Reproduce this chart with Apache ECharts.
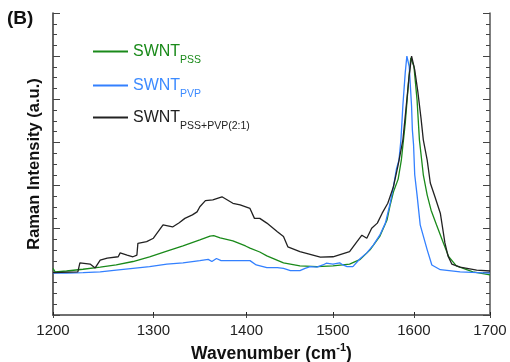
<!DOCTYPE html>
<html><head><meta charset="utf-8">
<script src="https://cdn.jsdelivr.net/npm/echarts@6/dist/echarts.min.js"></script>
<style>html,body{margin:0;padding:0;background:#fff}#c{width:510px;height:362px}</style>
</head><body><div id="c"></div>
<script>
// Wavenumber tick labels (x axis is logarithmic in the reference)
const xTicks = [1200, 1300, 1400, 1500, 1600, 1700];
const yMin = 0, yMax = 7;

// SWNT_PSS (green)
const pssWn = [1200,1202,1213,1229,1246,1262,1279,1296,1314,1331,1349,1360,1364,1371,1385,1399,1404,1415,1423,1442,1461,1481,1500,1520,1533,1545,1557,1566,1570,1574,1580,1584,1589,1593,1596,1597,1600,1604,1607,1612,1617,1622,1629,1638,1645,1655,1677,1700];
const pssI  = [1.08,1.00,1.02,1.06,1.11,1.16,1.24,1.35,1.48,1.60,1.74,1.83,1.84,1.79,1.72,1.60,1.55,1.46,1.37,1.21,1.14,1.12,1.14,1.18,1.29,1.51,1.82,2.20,2.55,2.85,3.15,3.59,4.45,5.37,5.96,6.00,5.76,4.98,4.06,3.25,2.78,2.43,2.09,1.67,1.35,1.14,1.00,0.93];

// SWNT_PVP (blue)
const pvpWn = [1200,1213,1229,1246,1262,1279,1296,1314,1331,1349,1358,1362,1367,1372,1385,1404,1411,1423,1435,1442,1450,1461,1467,1473,1481,1488,1492,1500,1508,1512,1517,1524,1533,1541,1549,1557,1564,1570,1574,1578,1581,1583.5,1586,1589,1591,1594,1597,1598,1599.5,1601,1604,1608,1617,1623,1634,1660,1700];
const pvpI  = [0.97,0.97,0.98,1.00,1.04,1.08,1.12,1.18,1.21,1.26,1.29,1.24,1.31,1.26,1.26,1.26,1.16,1.10,1.10,1.08,1.03,1.03,1.08,1.12,1.11,1.16,1.20,1.18,1.21,1.16,1.12,1.12,1.31,1.44,1.62,1.85,2.13,2.59,2.97,3.40,3.59,4.06,4.87,5.63,6.00,5.76,4.83,4.29,3.95,3.25,2.78,2.09,1.51,1.16,1.05,1.00,0.97];

// SWNT_PSS+PVP(2:1) (black)
const mixWn = [1200,1224,1226,1236,1241,1246,1253,1264,1266,1273,1279,1283,1284,1293,1300,1310,1320,1327,1333,1341,1346,1349,1355,1363,1373,1385,1393,1404,1409,1415,1423,1435,1442,1447,1461,1485,1500,1520,1529,1535,1541,1547,1554,1560,1567,1574,1580,1586,1590,1594,1597,1601,1605,1609,1612,1617,1621,1627,1634,1640,1644,1649,1660,1682,1700];
const mixI  = [0.98,1.00,1.21,1.18,1.09,1.27,1.32,1.35,1.44,1.39,1.35,1.39,1.66,1.70,1.78,2.09,2.04,2.14,2.24,2.32,2.39,2.51,2.65,2.67,2.74,2.59,2.55,2.47,2.24,2.24,2.13,1.93,1.82,1.58,1.47,1.34,1.35,1.47,1.70,1.85,1.78,2.01,2.13,2.36,2.59,2.97,3.48,4.06,4.80,5.56,6.00,5.68,5.17,4.57,4.06,3.59,3.06,2.74,2.36,1.67,1.37,1.18,1.11,1.04,1.02];

const F = "'Liberation Sans',Arial,sans-serif";
const lg = Math.log;
const pairs = (w, v) => w.map((x, i) => [lg(x), v[i]]);

const cGreen = '#1a8a1a', cBlue = '#3380ff', cBlack = '#222222';

function legendFor(name, color, sub, top) {
  return {
    data: [name], left: 93, top: top, icon: 'rect', itemWidth: 35, itemHeight: 2,
    padding: 0, selectedMode: false,
    formatter: () => '{m|SWNT}{s|' + sub + '}',
    textStyle: {
      fontFamily: F,
      rich: {
        m: { fontSize: 16, fontFamily: F, color: color, lineHeight: 18 },
        s: { fontSize: 10.5, fontFamily: F, color: color, lineHeight: 12, padding: [18, 0, 0, 0] }
      }
    }
  };
}

const chart = echarts.init(document.getElementById('c'), null, { renderer: 'canvas' });
chart.setOption({
  animation: false,
  backgroundColor: '#fff',
  title: { text: '(B)', left: 7, top: 9, padding: 0,
    textStyle: { fontFamily: F, fontSize: 19, fontWeight: 'bold', color: '#111' } },
  grid: { left: 53, right: 20, top: 13, bottom: 47, containLabel: false, outerBoundsMode: 'none' },
  legend: [
    legendFor('SWNT_PSS', cGreen, 'PSS', 37),
    legendFor('SWNT_PVP', '#3d8bff', 'PVP', 71),
    legendFor('SWNT_MIX', cBlack, 'PSS+PVP(2:1)', 103)
  ],
  xAxis: [{
    type: 'value', position: 'bottom', min: lg(1200), max: lg(1700),
    splitLine: { show: false },
    axisLine: { lineStyle: { color: '#222', width: 1.5 } },
    axisTick: { inside: true, length: 3, customValues: xTicks.map(lg), lineStyle: { color: '#222' } },
    axisLabel: { customValues: xTicks.map(lg), formatter: v => String(Math.round(Math.exp(v))),
      fontFamily: F, fontSize: 15, color: '#222', margin: 8 },
    name: '{b|Wavenumber (cm}{s|-1}{b|)}', nameLocation: 'middle', nameGap: 20,
    nameTextStyle: { rich: {
      b: { fontFamily: F, fontSize: 17.5, fontWeight: 'bold', color: '#111', lineHeight: 20 },
      s: { fontFamily: F, fontSize: 11, fontWeight: 'bold', color: '#111', lineHeight: 12, padding: [0, 0, 12, 0] }
    } }
  }, {
    type: 'value', position: 'top', min: lg(1200), max: lg(1700),
    splitLine: { show: false },
    axisLine: { lineStyle: { color: '#777', width: 1.5 } },
    axisTick: { inside: true, length: 3, customValues: xTicks.map(lg), lineStyle: { color: '#444' } },
    axisLabel: { show: false }
  }],
  yAxis: [{
    type: 'value', position: 'left', min: yMin, max: yMax, interval: 1,
    splitLine: { show: false },
    axisLine: { show: true, lineStyle: { color: '#333', width: 1.5 } },
    axisTick: { show: true, inside: true, length: 7, lineStyle: { color: '#444' } },
    minorTick: { show: true, splitNumber: 4, length: 4, lineStyle: { color: '#444' } },
    axisLabel: { show: false },
    name: 'Raman Intensity (a.u.)', nameLocation: 'middle', nameGap: 10,
    nameTextStyle: { fontFamily: F, fontSize: 16.5, fontWeight: 'bold', color: '#111' }
  }, {
    type: 'value', position: 'right', min: yMin, max: yMax, interval: 1,
    splitLine: { show: false },
    axisLine: { show: true, lineStyle: { color: '#555', width: 1.5 } },
    axisTick: { show: true, inside: true, length: 7, lineStyle: { color: '#444' } },
    minorTick: { show: true, splitNumber: 4, length: 4, lineStyle: { color: '#444' } },
    axisLabel: { show: false }
  }],
  series: [
    { name: 'SWNT_PSS', type: 'line', showSymbol: false, color: cGreen,
      lineStyle: { width: 1.3, color: cGreen }, data: pairs(pssWn, pssI) },
    { name: 'SWNT_PVP', type: 'line', showSymbol: false, color: cBlue,
      lineStyle: { width: 1.3, color: cBlue }, data: pairs(pvpWn, pvpI) },
    { name: 'SWNT_MIX', type: 'line', showSymbol: false, color: cBlack,
      lineStyle: { width: 1.3, color: cBlack }, data: pairs(mixWn, mixI) }
  ]
});
</script></body></html>
